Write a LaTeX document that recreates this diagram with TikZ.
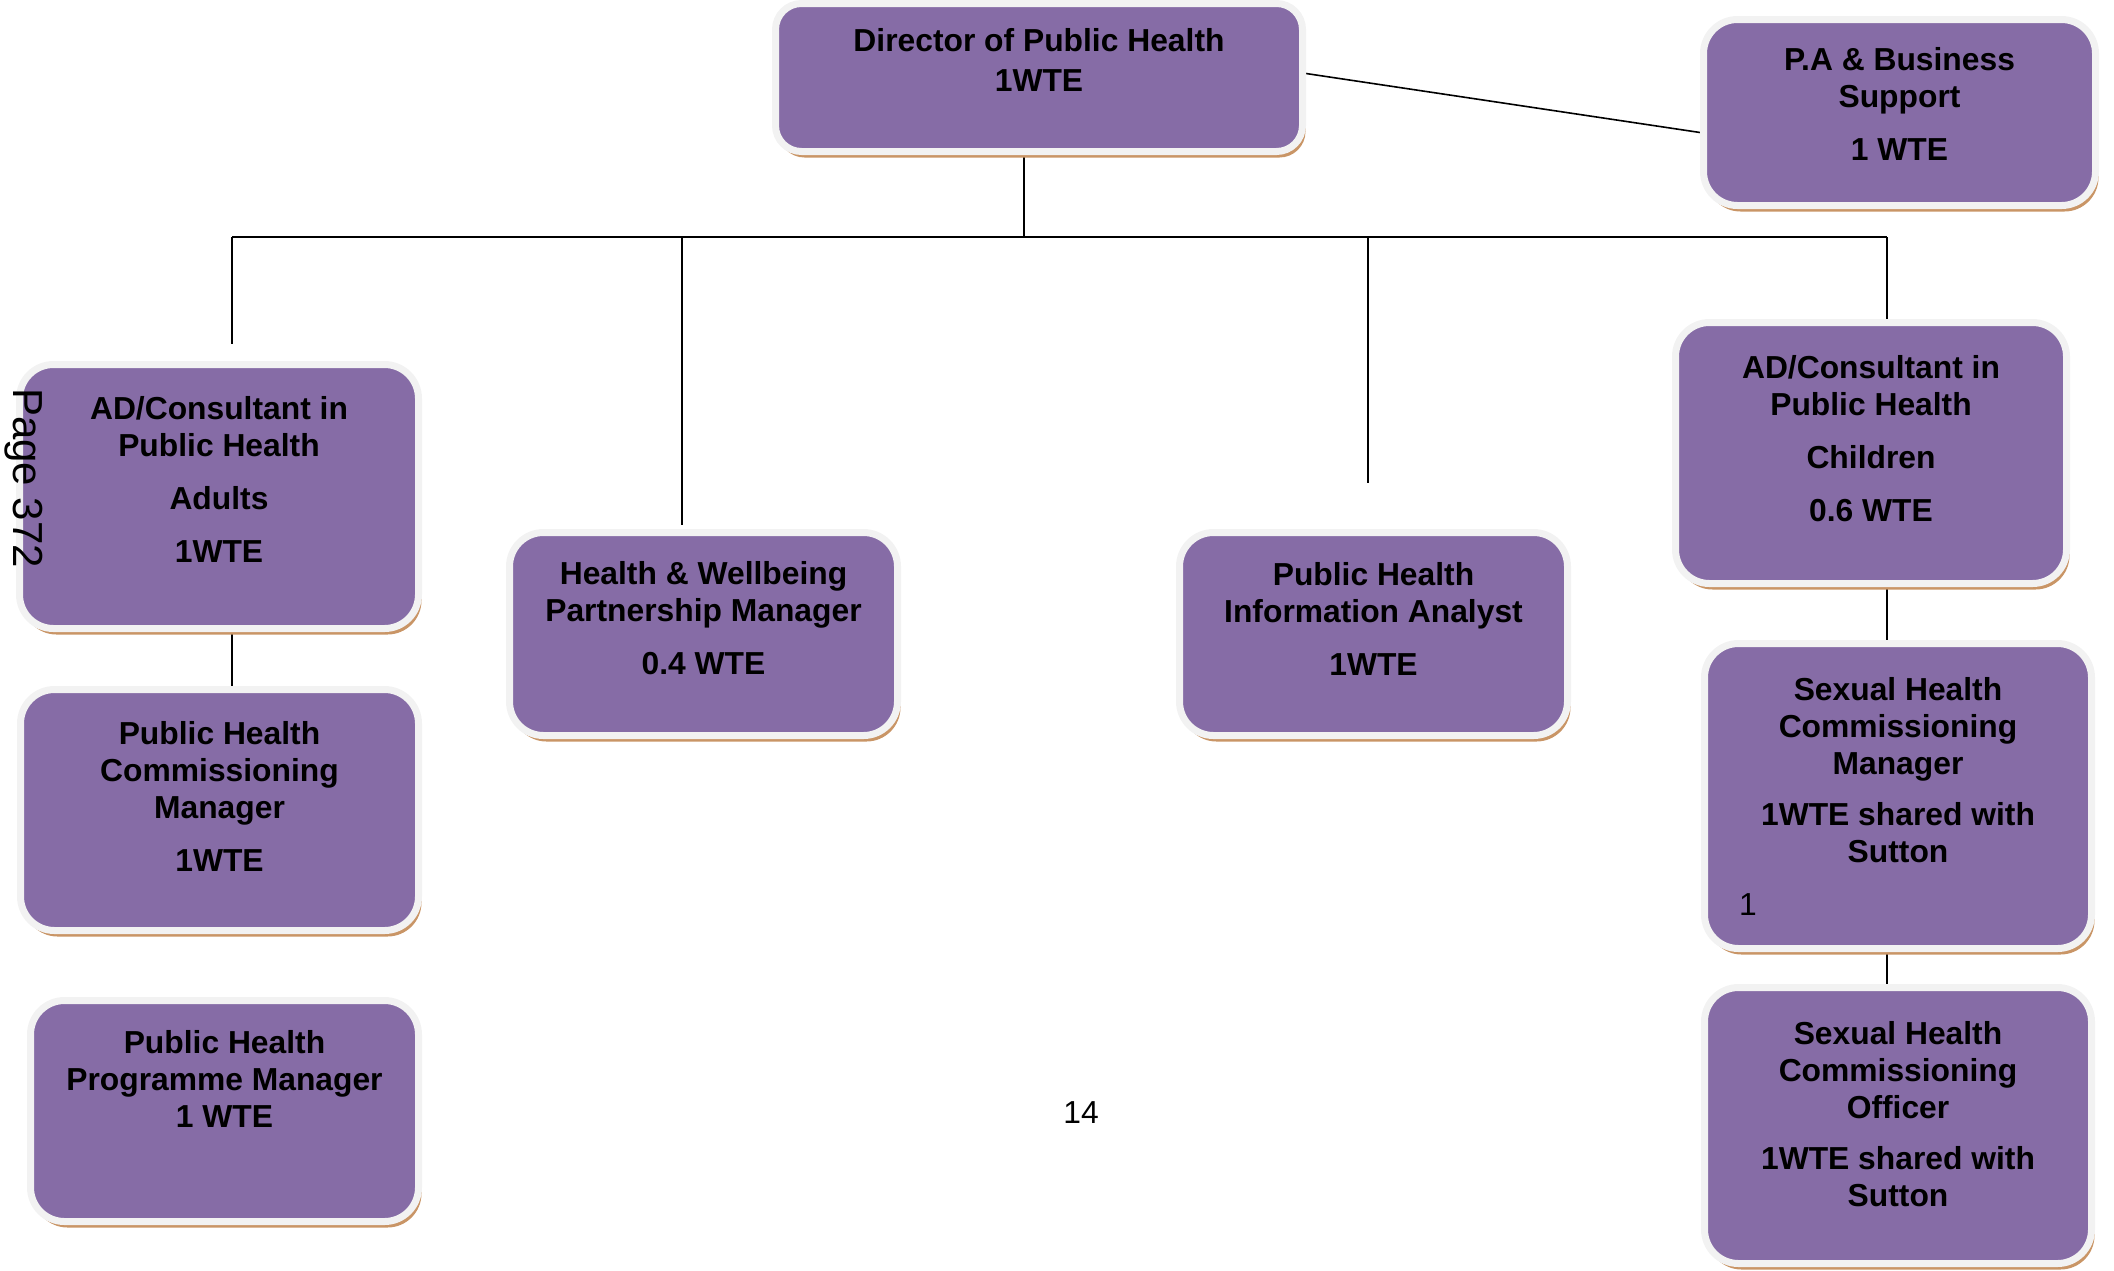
\documentclass[tikz,border=0pt]{standalone}
\usepackage{fontspec}
\setmainfont{Liberation Sans}
\usepackage{xcolor}
\usetikzlibrary{positioning,fit,backgrounds,shadows}

\definecolor{cardpurple}{HTML}{866CA6}
\definecolor{cardrim}{HTML}{F2F2F2}
\definecolor{cardshade}{HTML}{C99566}

\begin{document}
\begin{tikzpicture}[
    x=0.5pt, y=-0.5pt,
    card/.style={rectangle, draw=cardrim, line width=3.5pt, fill=cardpurple, rounded corners=17pt, inner sep=1.75pt, drop shadow={shadow xshift=1.5pt, shadow yshift=-3pt, fill=cardshade, opacity=1}},
    cardtext/.style={font=\bfseries\fontsize{15.9}{18.5}\selectfont, align=center, inner sep=0pt, text=black},
    link/.style={draw, line width=0.8pt, color=black},
    plain/.style={font=\fontsize{15.9}{18.5}\selectfont, inner sep=0pt}
]
    \useasboundingbox (0,0) rectangle (2114,1270);

    % Boxes
    \node[card, rounded corners=13pt, fit={(779,7) (1299,148)}] (dir) {};
    \node[card, fit={(1707,23) (2092,202)}] (pa) {};
    \node[card, fit={(23,368) (415,625)}] (adA) {};
    \node[card, fit={(24,693) (415,927)}] (phcm) {};
    \node[card, fit={(34,1004) (415,1218)}] (phpm) {};
    \node[card, fit={(513,536) (894,732)}] (hw) {};
    \node[card, fit={(1183,536) (1564,732)}] (phia) {};
    \node[card, fit={(1679,326) (2063,580)}] (adC) {};
    \node[card, fit={(1708,647) (2088,945)}] (shcm) {};
    \node[card, fit={(1708,991) (2088,1260)}] (shco) {};

    % Box texts
    \node[cardtext, font=\bfseries\fontsize{15.9}{20}\selectfont, below=14pt of dir.north] (dirlbl) {Director of Public Health\\1WTE};
    \node[cardtext, below=15.5pt of pa.north] (palbl) {P.A \& Business\\Support\\[8pt]1 WTE};
    \node[cardtext, below=17.5pt of adA.north] (adAlbl) {AD/Consultant in\\Public Health\\[8pt]Adults\\[8pt]1WTE};
    \node[cardtext, below=17.5pt of phcm.north] (phcmlbl) {Public Health\\Commissioning\\Manager\\[8pt]1WTE};
    \node[cardtext, below=16.5pt of phpm.north] (phpmlbl) {Public Health\\Programme Manager\\1 WTE};
    \node[cardtext, below=16pt of hw.north] (hwlbl) {Health \& Wellbeing\\Partnership Manager\\[8pt]0.4 WTE};
    \node[cardtext, below=16.5pt of phia.north] (phialbl) {Public Health\\Information Analyst\\[8pt]1WTE};
    \node[cardtext, below=18pt of adC.north] (adClbl) {AD/Consultant in\\Public Health\\[8pt]Children\\[8pt]0.6 WTE};
    \node[cardtext, below=18.75pt of shcm.north] (shcmlbl) {Sexual Health\\Commissioning\\Manager\\[7pt]1WTE shared with\\Sutton};
    \node[cardtext, below=18.5pt of shco.north] (shcolbl) {Sexual Health\\Commissioning\\Officer\\[7pt]1WTE shared with\\Sutton};

    % Loose texts
    \node[plain, font=\fontsize{21}{25}\selectfont, rotate=-90] (pagemark) at (24,478) {Page 372};
    \node[plain] (pageno) at (1081,1113) {14};
    \node[plain] (shcmnum) at (1748,905) {1};

    % Connectors
    \coordinate (dirfoot) at (1024,152);
    \coordinate (busL) at (232,237);
    \coordinate (busR) at (1887,237);
    \coordinate (adAstub) at (232,344);
    \coordinate (hwstub) at (682,525);
    \coordinate (phiastub) at (1368,483);
    \coordinate (adCstub) at (1887,322);

    \begin{scope}[on background layer]
        \path [link] (dirfoot) -- (dirfoot |- busL);
        \path [link] (busL) -- (busR);
        \path [link] (busL) -- (adAstub);
        \path [link] (hwstub |- busL) -- (hwstub);
        \path [link] (phiastub |- busL) -- (phiastub);
        \path [link] (busR) -- (adCstub);
        \path [link] (adA.south -| busL) -- (phcm.north -| busL);
        \path [link] (adC.south -| busR) -- (shcm.north -| busR);
        \path [link] (shcm.south -| busR) -- (shco.north -| busR);
        \path [link] ([yshift=2pt]dir.east) -- ([yshift=-10pt]pa.west);
    \end{scope}
\end{tikzpicture}
\end{document}
